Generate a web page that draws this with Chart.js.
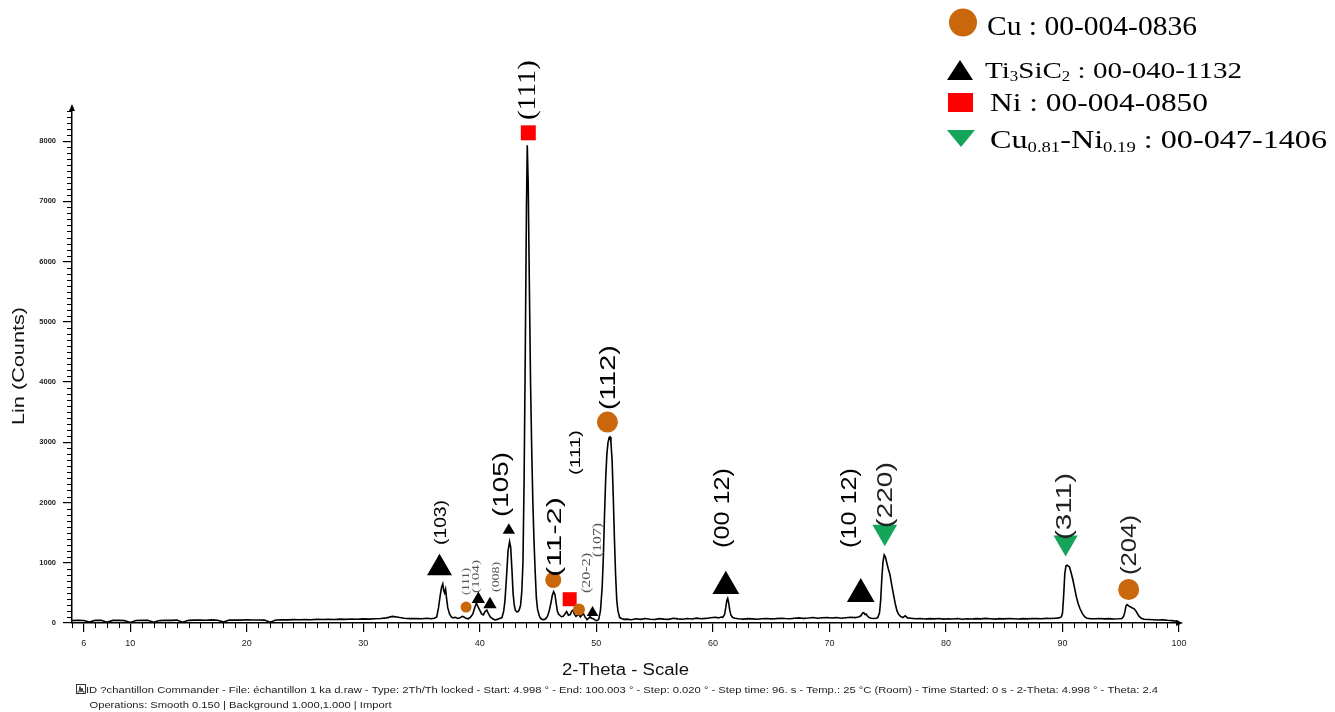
<!DOCTYPE html>
<html>
<head>
<meta charset="utf-8">
<title>XRD pattern</title>
<script src="https://cdn.jsdelivr.net/npm/chart.js@4.4.1/dist/chart.umd.min.js"></script>
<style>
  html, body { margin: 0; padding: 0; background: #fff; }
  #wrap { position: relative; width: 1335px; height: 712px; }
  canvas { display: block; }
</style>
</head>
<body>
<div id="wrap"><canvas id="xrd" width="1335" height="712"></canvas></div>
<script>
// ---------- diffractogram, 2θ (degrees) and intensity (counts) ----------
const thetaLow = [5.0,5.5,6.0,6.5,7.0,7.5,8.0,8.5,9.0,9.5,10.0,10.5,11.0,11.5,12.0,12.5,13.0,13.5,14.0,14.5,
  15.0,15.5,16.0,16.5,17.0,17.5,18.0,18.5,19.0,19.5,20.0,20.5,21.0,21.5,22.0,22.5,23.0,23.5,24.0,24.5,
  25.0,25.5,26.0,26.5,27.0,27.5,28.0,28.5,29.0,29.5,30.0,30.5,31.0,31.5,32.0,32.5,33.0,33.5,34.0,34.5,35.0,35.5];
const countsLow = [40,45,42,15,44,46,12,43,45,40,10,42,46,44,14,40,45,43,48,12,
  44,47,50,45,52,46,15,48,50,47,53,49,51,48,14,50,55,52,56,53,
  58,55,60,57,62,59,64,61,66,63,68,65,70,74,85,110,95,78,72,75,70,78];

const thetaTi = [35.8,36.1,36.3,36.45,36.6,36.72,36.82,36.9,36.98,37.06,37.15,37.25,37.4,37.55,37.7,37.9,38.1,38.3,38.5,38.6,
  38.8,39.0,39.2,39.4,39.55,39.7,39.82,40.0,40.15,40.3,40.45,40.6,40.75,40.9,41.1,41.3,41.5,41.7,41.9,42.05,
  42.16,42.3,42.42,42.55,42.65,42.75,42.85,42.95,43.05,43.17,43.3];
const countsTi = [70,80,100,250,460,600,650,540,500,560,400,250,150,100,85,95,75,85,110,105,
  80,70,95,150,250,330,280,210,150,135,190,215,150,100,70,50,60,75,90,200,
  380,800,1200,1350,1250,900,500,300,210,185,190];

const thetaMain = [43.4,43.5,43.6,43.7,43.8,43.9,44.0,44.07,44.15,44.25,44.35,44.45,44.55,44.65,44.75,44.85,44.95,45.1,45.2,45.35,
  45.5,45.65,45.8,45.95,46.1,46.22,46.33,46.45,46.55,46.65,46.75,46.9,47.0,47.15,47.3,47.45,47.6,47.75,47.9,48.0,
  48.1,48.25,48.4,48.5,48.62,48.75,48.88,49.0,49.2,49.35,49.45,49.58,49.7,49.85,50.0,50.1,50.2,50.35,50.5,50.6,
  50.7,50.8,50.9,51.0,51.1,51.17,51.25,51.35,51.45,51.55,51.65,51.75,51.85,52.0,52.2,52.4];
const countsMain = [230,300,520,1000,2400,4500,6900,7930,7300,5600,4000,2900,2000,1350,850,420,230,120,80,60,
  55,70,110,200,330,460,520,470,330,200,150,120,105,110,150,190,130,140,200,215,
  150,110,130,140,100,130,160,110,55,80,105,80,75,55,40,45,60,200,600,1100,
  1800,2400,2800,3000,3080,3090,3000,2700,2100,1400,800,380,200,90,70,60];

const thetaMid = [52.6,53.0,53.4,53.8,54.2,54.6,55.0,55.4,55.8,56.2,56.6,57.0,57.4,57.8,58.2,58.6,59.0,59.4,59.8,60.2,
  60.5,60.7,60.85,61.0,61.1,61.2,61.27,61.35,61.45,61.55,61.7,61.9,62.2,62.6,63.0,63.4,63.8,64.2,64.6,65.0,
  65.4,65.8,66.2,66.6,67.0,67.4,67.8,68.2,68.6,69.0,69.4,69.8,70.2,70.6,71.0,71.4,71.8,72.2,72.5,72.7,
  72.85,72.95,73.05,73.15,73.25,73.4,73.6,73.8,74.0,74.15,74.3,74.4,74.5,74.6,74.7,74.8,74.92,75.05,75.2,75.35,
  75.5,75.65,75.8,75.95,76.1,76.3,76.5,76.7];
const countsMid = [65,55,70,60,75,62,58,72,65,60,78,68,62,74,66,80,70,76,88,95,
  85,100,95,140,250,380,410,340,210,130,90,80,70,65,72,68,62,70,75,68,
  72,80,74,70,78,85,76,82,90,80,86,92,84,90,80,88,95,90,100,120,
  165,170,140,150,120,90,80,75,78,90,170,380,750,1020,1130,1100,1000,900,800,630,
  470,320,200,140,110,90,120,85];

const thetaHigh = [77.0,77.4,77.8,78.2,78.6,79.0,79.4,79.8,80.2,80.6,81.0,81.4,81.8,82.2,82.6,83.0,83.4,83.8,84.2,84.6,
  85.0,85.4,85.8,86.2,86.6,87.0,87.4,87.8,88.2,88.6,89.0,89.4,89.7,89.9,90.0,90.1,90.2,90.3,90.4,90.5,
  90.6,90.75,90.9,91.05,91.2,91.35,91.5,91.7,91.9,92.1,92.4,92.8,93.2,93.6,94.0,94.4,94.8,95.1,95.25,95.35,
  95.45,95.55,95.7,95.85,96.0,96.15,96.3,96.45,96.6,96.8,97.0,97.4,97.8,98.2,98.6,99.0,99.4,99.8,100.0];
const countsHigh = [78,70,74,66,72,68,75,64,70,66,74,62,70,66,72,68,76,70,65,72,
  68,74,70,66,72,68,75,72,70,76,74,80,85,100,160,450,820,950,960,945,
  930,830,710,570,430,320,240,160,105,80,72,70,75,68,72,66,70,75,110,180,
  280,305,280,265,250,235,200,150,105,75,62,58,55,50,52,45,40,30,25];

// axis tick values
const xTickValues = [6, 10, 20, 30, 40, 50, 60, 70, 80, 90, 100];
const yTickValues = [0, 1000, 2000, 3000, 4000, 5000, 6000, 7000, 8000];

// identified phases: marker position (2θ, counts)
const cuTheta = [38.82, 46.3, 48.51, 50.95, 95.68];
const cuCounts = [265, 714, 224, 3336, 556];
const tiTheta = [36.54, 39.87, 40.87, 42.49, 49.67, 61.11, 72.69];
const tiCounts = [911, 397, 309, 1540, 173, 609, 481];
const niTheta = [44.16, 47.71];
const niCounts = [8138, 395];
const cuniTheta = [74.75, 90.27];
const cuniCounts = [1512, 1338];

// reflection indices and where each label starts (2θ, counts)
const hklText = ['(103)','(111)','(104)','(008)','(105)','(111)','(11-2)','(111)','(20-2)','(107)','(112)','(00 12)','(10 12)','(220)','(311)','(204)'];
const hklTheta = [36.72, 38.82, 39.67, 41.39, 41.88, 44.16, 46.45, 48.25, 49.19, 50.14, 51.12, 60.88, 71.75, 74.84, 90.19, 95.76];
const hklCounts = [1295, 465, 498, 515, 1759, 8349, 763, 2456, 498, 1095, 3535, 1245, 1245, 1577, 1378, 797];

// ---------- styling ----------
const SANS = "'Liberation Sans', Arial, sans-serif";
const SERIF = "'Liberation Serif', 'Times New Roman', serif";
const COL_CU = '#CA670C', COL_TI = '#000000', COL_NI = '#FF0000', COL_CUNI = '#14A55A';

const cuRadius = [5.5, 8, 6, 10.5, 10.5];
const tiRadius = [14.4, 7.7, 7.7, 7.1, 6.7, 15.5, 16];
const niRadius = [10.6, 9.9];
const cuniRadius = [14.3, 14];

// [family, size px, drawn length px, colour]
const hklStyle = [
  ['sans', 16, 45, '#000'], ['serif', 11, 27, '#555'], ['serif', 11, 33, '#555'], ['serif', 11, 30, '#555'],
  ['sans', 22, 65, '#000'], ['serif', 26, 60, '#000'], ['sans', 21, 80, '#000'], ['sans', 15, 45, '#000'],
  ['serif', 12, 40, '#555'], ['serif', 12, 34, '#555'], ['sans', 22, 65, '#000'], ['sans', 22, 80, '#000'],
  ['sans', 22, 80, '#000'], ['sans', 22, 66, '#222'], ['sans', 22, 67, '#222'], ['sans', 22, 60, '#222']
];

function toPoints(xs, ys) {
  const n = Math.min(xs.length, ys.length);
  const out = [];
  for (let i = 0; i < n; i++) out.push({ x: xs[i], y: ys[i] });
  return out;
}

const scanPoints = [].concat(
  toPoints(thetaLow, countsLow),
  toPoints(thetaTi, countsTi),
  toPoints(thetaMain, countsMain),
  toPoints(thetaMid, countsMid),
  toPoints(thetaHigh, countsHigh)
);

// text helpers
function stretchFactor(ctx, text, font, len) {
  ctx.font = font;
  const w = ctx.measureText(text).width;
  return len ? len / w : 1;
}

function drawRich(ctx, parts, x, y, size, family, targetW) {
  let w = 0;
  for (const [t, sub] of parts) {
    ctx.font = (sub ? size * 0.58 : size) + 'px ' + family;
    w += ctx.measureText(t).width;
  }
  const sx = targetW ? targetW / w : 1;
  ctx.save();
  ctx.translate(x, y);
  ctx.scale(sx, 1);
  ctx.textAlign = 'left';
  ctx.textBaseline = 'alphabetic';
  let cx = 0;
  for (const [t, sub] of parts) {
    ctx.font = (sub ? size * 0.58 : size) + 'px ' + family;
    ctx.fillText(t, cx, sub ? size * 0.14 : 0);
    cx += ctx.measureText(t).width;
  }
  ctx.restore();
}

function drawLine(ctx, text, x, y, font, targetW, align) {
  ctx.save();
  ctx.font = font;
  const sx = stretchFactor(ctx, text, font, targetW);
  ctx.translate(x, y);
  ctx.scale(sx, 1);
  ctx.textAlign = align || 'left';
  ctx.textBaseline = 'alphabetic';
  ctx.fillText(text, 0, 0);
  ctx.restore();
}

// axis decoration, reflection labels, phase key and scan information
const decorPlugin = {
  id: 'decor',
  afterDraw(chart) {
    const ctx = chart.ctx;
    const xs = chart.scales.x, ys = chart.scales.y;
    const area = chart.chartArea;
    ctx.save();

    // minor ticks
    ctx.strokeStyle = '#000';
    ctx.lineWidth = 1;
    ctx.beginPath();
    for (let v = 100; v <= 8500; v += 100) {
      if (v % 1000 === 0) continue;
      const py = Math.round(ys.getPixelForValue(v)) + 0.5;
      ctx.moveTo(area.left - 5, py);
      ctx.lineTo(area.left, py);
    }
    for (let t = 5; t <= 100; t++) {
      if (xTickValues.includes(t)) continue;
      const px = Math.round(xs.getPixelForValue(t)) + 0.5;
      ctx.moveTo(px, area.bottom);
      ctx.lineTo(px, area.bottom + 5);
    }
    ctx.stroke();

    // arrow heads at the axis ends
    ctx.fillStyle = '#000';
    ctx.beginPath();
    ctx.moveTo(area.left - 3, area.top + 3);
    ctx.lineTo(area.left + 3, area.top + 3);
    ctx.lineTo(area.left, area.top - 4);
    ctx.closePath();
    ctx.fill();
    ctx.beginPath();
    ctx.moveTo(area.right - 3, area.bottom - 3);
    ctx.lineTo(area.right - 3, area.bottom + 3);
    ctx.lineTo(area.right + 4, area.bottom);
    ctx.closePath();
    ctx.fill();

    // reflection labels, written upward
    hklText.forEach((txt, i) => {
      const [fam, size, len, color] = hklStyle[i];
      const px = xs.getPixelForValue(hklTheta[i]);
      const py = ys.getPixelForValue(hklCounts[i]);
      const font = size + 'px ' + (fam === 'serif' ? SERIF : SANS);
      const sx = stretchFactor(ctx, txt, font, len);
      ctx.save();
      ctx.translate(px, py);
      ctx.rotate(-Math.PI / 2);
      ctx.scale(sx, 1);
      ctx.font = font;
      ctx.fillStyle = color;
      ctx.textAlign = 'left';
      ctx.textBaseline = 'middle';
      ctx.fillText(txt, 0, 0);
      ctx.restore();
    });

    // phase key
    ctx.fillStyle = COL_CU;
    ctx.beginPath();
    ctx.arc(963, 22.5, 14, 0, Math.PI * 2);
    ctx.fill();
    ctx.fillStyle = COL_TI;
    ctx.beginPath();
    ctx.moveTo(947, 80); ctx.lineTo(973, 80); ctx.lineTo(960, 60);
    ctx.closePath(); ctx.fill();
    ctx.fillStyle = COL_NI;
    ctx.fillRect(948, 93, 25, 19);
    ctx.fillStyle = COL_CUNI;
    ctx.beginPath();
    ctx.moveTo(947, 130); ctx.lineTo(975, 130); ctx.lineTo(961, 147);
    ctx.closePath(); ctx.fill();

    ctx.fillStyle = '#000';
    drawRich(ctx, [['Cu : 00-004-0836']], 987, 35, 28, SERIF, 210);
    drawRich(ctx, [['Ti'], ['3', true], ['SiC'], ['2', true], [' : 00-040-1132']], 985, 78, 24, SERIF, 257);
    drawRich(ctx, [['Ni : 00-004-0850']], 990, 111, 26, SERIF, 218);
    drawRich(ctx, [['Cu'], ['0.81', true], ['-Ni'], ['0.19', true], [' : 00-047-1406']], 990, 148, 26, SERIF, 337);

    // axis titles
    ctx.fillStyle = '#111';
    ctx.save();
    ctx.translate(19, 366);
    ctx.rotate(-Math.PI / 2);
    ctx.font = '17px ' + SANS;
    const ts = stretchFactor(ctx, 'Lin (Counts)', '17px ' + SANS, 118);
    ctx.scale(ts, 1);
    ctx.textAlign = 'center';
    ctx.textBaseline = 'middle';
    ctx.fillText('Lin (Counts)', 0, 0);
    ctx.restore();
    drawLine(ctx, '2-Theta - Scale', 625.5, 675, '16px ' + SANS, 127, 'center');

    // scan information
    ctx.strokeStyle = '#333';
    ctx.lineWidth = 1;
    ctx.strokeRect(76.5, 684.5, 9, 9);
    ctx.beginPath();
    ctx.moveTo(77.5, 692); ctx.lineTo(79, 692); ctx.lineTo(80, 686.5); ctx.lineTo(81, 692);
    ctx.lineTo(82, 688); ctx.lineTo(83, 692); ctx.lineTo(84.5, 692);
    ctx.stroke();
    ctx.fillStyle = '#222';
    drawLine(ctx, 'ID ?chantillon Commander - File: échantillon 1 ka d.raw - Type: 2Th/Th locked - Start: 4.998 ° - End: 100.003 ° - Step: 0.020 ° - Step time: 96. s - Temp.: 25 °C (Room) - Time Started: 0 s - 2-Theta: 4.998 ° - Theta: 2.4',
      86, 693, '9px ' + SANS, 1072);
    drawLine(ctx, 'Operations: Smooth 0.150 | Background 1.000,1.000 | Import', 89.5, 708, '9px ' + SANS, 302);

    ctx.restore();
  }
};

function markerSet(label, xs, ys, style, color, radii, rotation) {
  return {
    type: 'scatter',
    label,
    data: toPoints(xs, ys),
    showLine: false,
    pointStyle: style,
    pointRadius: radii,
    pointBackgroundColor: color,
    pointBorderWidth: 0,
    pointRotation: rotation || 0,
    order: 1
  };
}

new Chart(document.getElementById('xrd'), {
  type: 'scatter',
  data: {
    datasets: [
      markerSet('Cu', cuTheta, cuCounts, 'circle', COL_CU, cuRadius),
      markerSet('Ti3SiC2', tiTheta, tiCounts, 'triangle', COL_TI, tiRadius),
      markerSet('Ni', niTheta, niCounts, 'rect', COL_NI, niRadius),
      markerSet('Cu0.81-Ni0.19', cuniTheta, cuniCounts, 'triangle', COL_CUNI, cuniRadius, 180),
      {
        label: 'scan',
        data: scanPoints,
        showLine: true,
        borderColor: '#000',
        borderWidth: 1.6,
        pointRadius: 0,
        tension: 0,
        fill: false,
        order: 5
      }
    ]
  },
  options: {
    responsive: false,
    animation: false,
    devicePixelRatio: 1,
    events: [],
    layout: { padding: { left: 5, right: 156, top: 108, bottom: 32 } },
    plugins: { legend: { display: false }, tooltip: { enabled: false } },
    scales: {
      x: {
        type: 'linear',
        min: 5,
        max: 100,
        afterBuildTicks: s => { s.ticks = xTickValues.map(v => ({ value: v })); },
        afterFit: s => { s.height = 57; },
        ticks: {
          autoSkip: false,
          maxRotation: 0,
          padding: 6,
          color: '#222',
          font: { family: SANS, size: 9 },
          callback: v => String(v)
        },
        grid: { drawOnChartArea: false, drawTicks: true, tickLength: 9, color: '#000', lineWidth: 1.2 },
        border: { display: true, color: '#000', width: 1.5 }
      },
      y: {
        type: 'linear',
        min: 0,
        max: 8550,
        afterBuildTicks: s => { s.ticks = yTickValues.map(v => ({ value: v })); },
        afterFit: s => { s.width = 67; },
        ticks: {
          padding: 7,
          color: '#222',
          font: { family: SANS, size: 7.5, weight: 'bold' },
          callback: v => String(v)
        },
        grid: { drawOnChartArea: false, drawTicks: true, tickLength: 9, color: '#000', lineWidth: 1.2 },
        border: { display: true, color: '#000', width: 1.5 }
      }
    }
  },
  plugins: [decorPlugin]
});
</script>
</body>
</html>
